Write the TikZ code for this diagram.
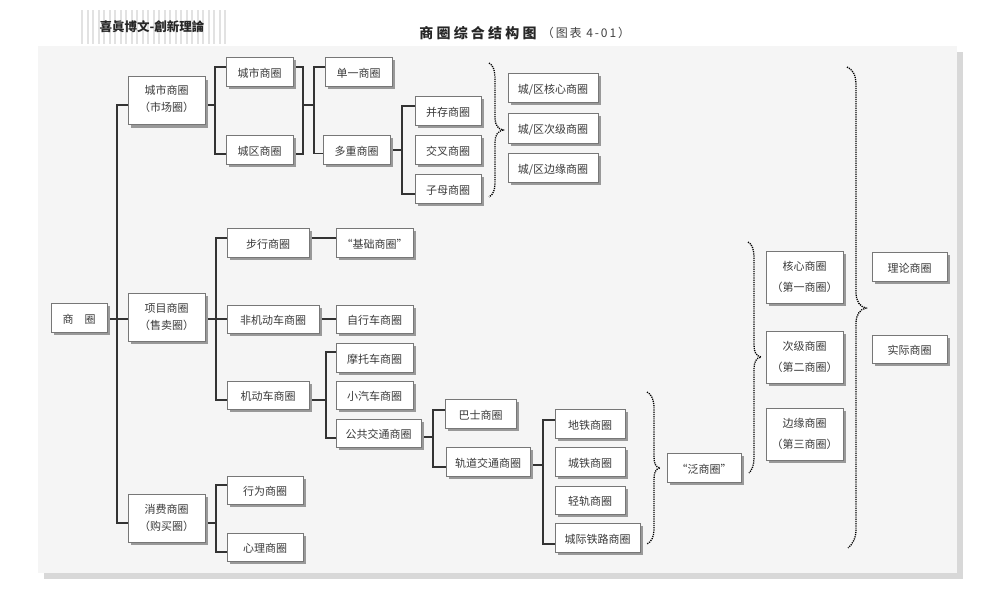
\documentclass[tikz,border=0pt]{standalone}
\usepackage{fontspec}
\usepackage{tikz}
\usetikzlibrary{calc}
\usetikzlibrary{shadows}
\setmainfont{Noto Sans CJK SC}
\newfontfamily\titlefont[LetterSpace=23]{Noto Sans CJK SC}
\newfontfamily\subfont[LetterSpace=16]{Noto Sans CJK SC}
\newfontfamily\headfont{Noto Sans CJK TC}
\definecolor{panelfill}{HTML}{F5F5F5}
\definecolor{paneledge}{HTML}{D8D8D8}
\definecolor{stripe}{HTML}{E2E2E2}
\definecolor{boxedge}{HTML}{777777}
\definecolor{boxshade}{HTML}{999999}
\definecolor{boxtext}{HTML}{3A3A3A}
\definecolor{linkline}{HTML}{333333}
\tikzset{
  box/.style={draw=boxedge, line width=1pt, fill=white, text=boxtext, inner sep=0pt, outer sep=0pt,
    align=center, font=\fontsize{11}{17}\selectfont,
    drop shadow={shadow xshift=3pt, shadow yshift=-3pt, fill=boxshade, opacity=1}},
  onebox/.style={box, text height=11pt, text depth=0pt},
  link/.style={linkline, line width=1.2pt},
  bracket/.style={black, line width=1.3pt, dash pattern=on 1.2pt off 1pt}
}
\begin{document}
\begin{tikzpicture}[x=1pt,y=-1pt]
\useasboundingbox (0,0) rectangle (1000,595);

% panel
\fill[paneledge] (44,52) rectangle (963,579);
\fill[panelfill] (38,46) rectangle (957,573);

% header
\foreach \sx in {82,87.5,...,227}
{
\draw[stripe, line width=2pt] (\sx,10)--++(0,34);
}
\node (header) at (152,27) [font=\headfont\bfseries\fontsize{12.5}{14}\selectfont, text=black!85] {喜眞博文-創新理論};
\node (title) at (478,33) [font=\titlefont\bfseries\fontsize{14}{15}\selectfont, text=black!85] {商圈综合结构图};
\node (subtitle) at (586,33) [font=\subfont\fontsize{12}{13}\selectfont, text=black!75] {（图表 4-01）};

% first column
\node[onebox, minimum width=56, minimum height=29] (root) at (79,317.5) {商　圈};
\node[box, minimum width=77, minimum height=48, text depth=5pt] (city) at (166.5,100.5) {城市商圈\\（市场圈）};
\node[box, minimum width=77, minimum height=48] (project) at (166.5,317) {项目商圈\\（售卖圈）};
\node[box, minimum width=77, minimum height=48] (spend) at (166.5,518) {消费商圈\\（购买圈）};

% city branch
\node[onebox, minimum width=67, minimum height=29] (citya) at (259.5,71.5) {城市商圈};
\node[onebox, minimum width=67, minimum height=29] (cityb) at (259.5,149.5) {城区商圈};
\node[onebox, minimum width=67, minimum height=29] (single) at (358.5,71.5) {单一商圈};
\node[onebox, minimum width=67, minimum height=29] (multi) at (356.5,149.5) {多重商圈};
\node[onebox, minimum width=66, minimum height=29] (parallel) at (448,110.5) {并存商圈};
\node[onebox, minimum width=66, minimum height=29] (cross) at (448,149.5) {交叉商圈};
\node[onebox, minimum width=66, minimum height=29] (mother) at (448,188.5) {子母商圈};
\node[onebox, minimum width=90, minimum height=29] (corearea) at (553,87.5) {城/区核心商圈};
\node[onebox, minimum width=90, minimum height=30] (nextarea) at (553,128) {城/区次级商圈};
\node[onebox, minimum width=90, minimum height=29] (edgearea) at (553,167.5) {城/区边缘商圈};

% project branch
\node[onebox, minimum width=82, minimum height=29] (walk) at (268,242.5) {步行商圈};
\node[onebox, minimum width=77, minimum height=29] (base) at (374.5,242.5) {“基础商圈”};
\node[onebox, minimum width=92, minimum height=28] (nonmotor) at (273,319) {非机动车商圈};
\node[onebox, minimum width=77, minimum height=28] (bike) at (374.5,319) {自行车商圈};
\node[onebox, minimum width=82, minimum height=28] (motor) at (268,395) {机动车商圈};
\node[onebox, minimum width=77, minimum height=29] (moto) at (374.5,357.5) {摩托车商圈};
\node[onebox, minimum width=77, minimum height=28] (car) at (374.5,395) {小汽车商圈};
\node[onebox, minimum width=85, minimum height=28] (public) at (378.5,433) {公共交通商圈};
\node[onebox, minimum width=71, minimum height=29] (bus) at (480.5,413.5) {巴士商圈};
\node[onebox, minimum width=84, minimum height=29] (rail) at (488,461.5) {轨道交通商圈};
\node[onebox, minimum width=70, minimum height=29] (metro) at (590,423.5) {地铁商圈};
\node[onebox, minimum width=70, minimum height=29] (urban) at (590,461.5) {城铁商圈};
\node[onebox, minimum width=70, minimum height=28] (light) at (590,500) {轻轨商圈};
\node[onebox, minimum width=85, minimum height=29] (intercity) at (597.5,537.5) {城际铁路商圈};

% spend branch
\node[onebox, minimum width=76, minimum height=28] (act) at (265,490) {行为商圈};
\node[onebox, minimum width=76, minimum height=28] (mind) at (265,547) {心理商圈};

% right part
\node[onebox, minimum width=74, minimum height=29] (wide) at (704,467.5) {“泛商圈”};
\node[box, minimum width=77, minimum height=52, font=\fontsize{11}{21}\selectfont] (core) at (804.5,277) {核心商圈\\（第一商圈）};
\node[box, minimum width=77, minimum height=52, font=\fontsize{11}{21}\selectfont] (second) at (804.5,357) {次级商圈\\（第二商圈）};
\node[box, minimum width=77, minimum height=52, font=\fontsize{11}{21}\selectfont] (third) at (804.5,434) {边缘商圈\\（第三商圈）};
\node[onebox, minimum width=75, minimum height=29] (theory) at (909.5,266.5) {理论商圈};
\node[onebox, minimum width=75, minimum height=28] (actual) at (909.5,349) {实际商圈};

% bus lines
\coordinate (busroot) at (117,319);
\coordinate (buscity) at (215,105);
\coordinate (busjoin) at (303,105);
\coordinate (bustype) at (314,105);
\coordinate (busmulti) at (402,150);
\coordinate (busproject) at (216,319);
\coordinate (busmotor) at (326,400);
\coordinate (buspublic) at (433,437);
\coordinate (busrail) at (543,465);
\coordinate (busspend) at (216,523);

\draw[link] ($(root.east)+(3,1.5)$) -- ($(project.west)+(0,2)$);
\draw[link] ($(city.west)+(0,4.5)$) -| (busroot) |- ($(spend.west)+(0,5)$);

\draw[link] ($(city.east)+(3,4.5)$) -- (buscity);
\draw[link] ($(citya.west)+(0,-4.5)$) -| (buscity) |- ($(cityb.west)+(0,4.5)$);
\draw[link] ($(citya.east)+(3,-4.5)$) -| (busjoin) |- ($(cityb.east)+(3,4.5)$);
\draw[link] (busjoin) -- (bustype);
\draw[link] ($(single.west)+(0,-4.5)$) -| (bustype) |- ($(multi.west)+(0,4)$);
\draw[link] ($(multi.east)+(3,0.5)$) -- (busmulti);
\draw[link] ($(parallel.west)+(0,-4.5)$) -| (busmulti) |- ($(mother.west)+(0,5.5)$);

\draw[link] ($(project.east)+(3,2)$) -- (nonmotor.west);
\draw[link] ($(walk.west)+(0,-4.5)$) -| (busproject) |- ($(motor.west)+(0,5)$);
\draw[link] ($(walk.east)+(3,-4.5)$) -- ($(base.west)+(0,-4.5)$);
\draw[link] ($(nonmotor.east)+(3,0)$) -- (bike.west);
\draw[link] ($(motor.east)+(3,5)$) -- (busmotor);
\draw[link] ($(moto.west)+(0,-5.5)$) -| (busmotor) |- ($(public.west)+(0,5)$);
\draw[link] ($(public.east)+(3,4)$) -- (buspublic);
\draw[link] ($(bus.west)+(0,-3.5)$) -| (buspublic) |- ($(rail.west)+(0,5.5)$);
\draw[link] ($(rail.east)+(3,3.5)$) -- (busrail);
\draw[link] ($(metro.west)+(0,-3.5)$) -| (busrail) |- ($(intercity.west)+(0,6.5)$);

\draw[link] ($(spend.east)+(3,5)$) -- (busspend);
\draw[link] ($(act.west)+(0,-5)$) -| (busspend) |- ($(mind.west)+(0,5)$);

% dotted brackets
\draw[bracket] (489,63) .. controls (493,65) and (495,70) .. (495,80) -- (495,118) .. controls (495,125) and (498,129) .. (503,130) .. controls (498,131) and (495,135) .. (495,142) -- (495,183) .. controls (495,190) and (493,195) .. (489,197);
\draw[bracket] (647,392) .. controls (651,394) and (654,399) .. (654,408) -- (654,456) .. controls (654,463) and (655,467) .. (660,468) .. controls (655,469) and (654,473) .. (654,480) -- (654,530) .. controls (654,537) and (651,542) .. (647,544);
\draw[bracket] (748,242) .. controls (752,244) and (754,249) .. (754,258) -- (754,345) .. controls (754,352) and (756,356) .. (761,357) .. controls (756,358) and (754,362) .. (754,369) -- (754,458) .. controls (754,465) and (752,470) .. (749,473);
\draw[bracket] (847,67) .. controls (852,69) and (856,74) .. (856,85) -- (856,293) .. controls (856,301) and (860,307) .. (866,308) .. controls (860,309) and (856,315) .. (856,323) -- (856,530) .. controls (856,538) and (852,545) .. (848,548);

\end{tikzpicture}
\end{document}
